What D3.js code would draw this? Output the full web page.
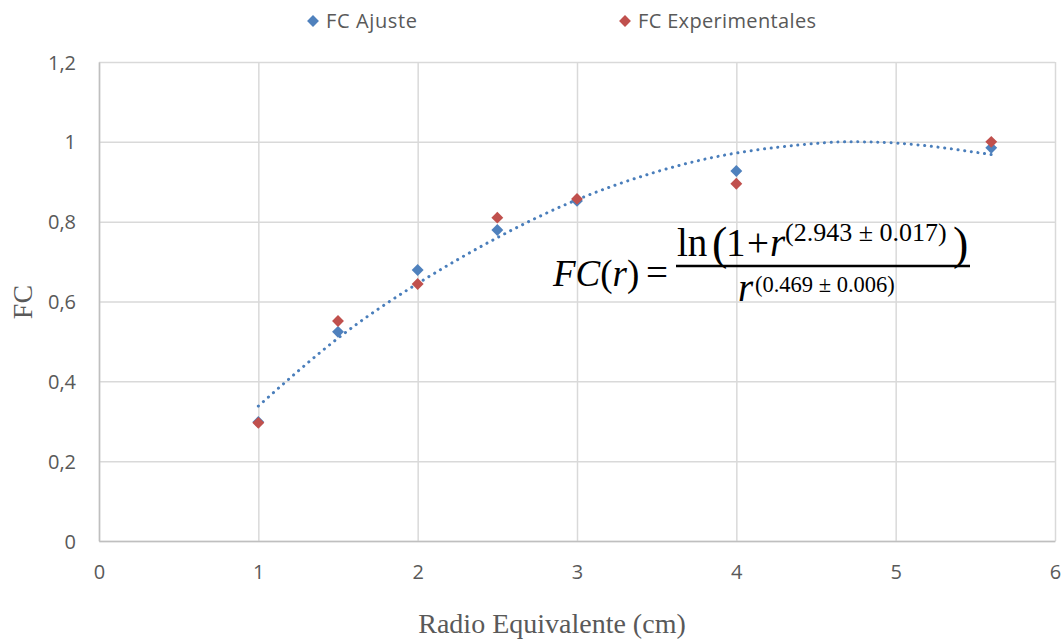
<!DOCTYPE html>
<meta charset="utf-8">
<style>
body { margin: 0; background: #fff; }
.tick text { fill: #595959; font-family: "Open Sans", "Liberation Sans", sans-serif; font-size: 20px; }
.grid line { stroke: #d9d9d9; stroke-width: 1.5; }
.grid path { display: none; }
.eq { font-family: "Liberation Serif", "DejaVu Serif", serif; fill: #000; }
</style>
<svg width="1063" height="639"></svg>
<script src="https://d3js.org/d3.v7.min.js"></script>
<script>

var radio = [1, 1.5, 2, 2.5, 3, 4, 5.6];
var fcAjuste = [0.298, 0.524, 0.679, 0.779, 0.852, 0.927, 0.985];
var fcExperimentales = [0.296, 0.551, 0.644, 0.810, 0.857, 0.895, 1.0];

// dotted trend line
var trendX = [1, 1.5, 2, 2.5, 3, 3.5, 4, 4.5, 4.75, 5, 5.3, 5.6];
var trendY = [0.338, 0.508, 0.645, 0.760, 0.855, 0.925, 0.972, 0.996, 1.0, 0.997, 0.985, 0.968];

var xTicks = [0, 1, 2, 3, 4, 5, 6];
var yTicks = [0, 0.2, 0.4, 0.6, 0.8, 1, 1.2];

var svg = d3.select("svg"),
    margin = {top: 62, right: 8, bottom: 98, left: 99},
    width = +svg.attr("width") - margin.left - margin.right,
    height = +svg.attr("height") - margin.top - margin.bottom;

var x = d3.scaleLinear().domain([0, 6]).range([0, width]),
    y = d3.scaleLinear().domain([0, 1.2]).range([height, 0]);

var g = svg.append("g")
    .attr("transform", "translate(" + margin.left + "," + margin.top + ")");

var fmt = function(d) { return String(d).replace(".", ","); };

// gridlines
g.append("g").attr("class", "grid")
    .call(d3.axisLeft(y).tickValues(yTicks).tickSize(-width).tickFormat(""));
g.append("g").attr("class", "grid")
    .attr("transform", "translate(0," + height + ")")
    .call(d3.axisBottom(x).tickValues(xTicks).tickSize(-height).tickFormat(""));

// axes
var yAxis = g.append("g")
    .call(d3.axisLeft(y).tickValues(yTicks).tickSize(0).tickPadding(23).tickFormat(fmt));
yAxis.select(".domain").attr("stroke", "#bfbfbf").attr("stroke-width", 1.5);
yAxis.selectAll(".tick text").attr("dy", "0.35em");

var xAxis = g.append("g")
    .attr("transform", "translate(0," + height + ")")
    .call(d3.axisBottom(x).tickValues(xTicks).tickSize(0).tickPadding(24).tickFormat(fmt));
xAxis.select(".domain").attr("stroke", "#bfbfbf").attr("stroke-width", 1.5);

// trend line
var line = d3.line()
    .x(function(d) { return x(d[0]); })
    .y(function(d) { return y(d[1]); })
    .curve(d3.curveNatural);

g.append("path")
    .datum(d3.zip(trendX, trendY))
    .attr("d", line)
    .attr("fill", "none")
    .attr("stroke", "#4a7ebb")
    .attr("stroke-width", 3)
    .attr("stroke-linecap", "round")
    .attr("stroke-dasharray", "0.1 6.6");

// markers
var diamond = d3.symbol().type(d3.symbolDiamond2).size(90);

g.selectAll(".aj")
    .data(d3.zip(radio, fcAjuste))
  .enter().append("path")
    .attr("class", "aj")
    .attr("d", diamond)
    .attr("fill", "#4f81bd")
    .attr("transform", function(d) { return "translate(" + x(d[0]) + "," + y(d[1]) + ")"; });

g.selectAll(".ex")
    .data(d3.zip(radio, fcExperimentales))
  .enter().append("path")
    .attr("class", "ex")
    .attr("d", diamond)
    .attr("fill", "#c0504d")
    .attr("transform", function(d) { return "translate(" + x(d[0]) + "," + y(d[1]) + ")"; });

// legend
var legend = [["FC Ajuste", "#4f81bd", 313], ["FC Experimentales", "#c0504d", 625]];
legend.forEach(function(l) {
  svg.append("path").attr("d", diamond).attr("fill", l[1])
    .attr("transform", "translate(" + l[2] + ",21)");
  svg.append("text").attr("x", l[2] + 13).attr("y", 28)
    .attr("fill", "#595959")
    .style("font-family", "'Open Sans', 'Liberation Sans', sans-serif")
    .style("font-size", "20px")
    .attr("textLength", l[0] === "FC Ajuste" ? 91 : 178)
    .text(l[0]);
});

// axis titles
svg.append("text")
    .attr("transform", "translate(32,302) rotate(-90)")
    .attr("text-anchor", "middle")
    .attr("fill", "#595959")
    .style("font-family", "'Liberation Serif', serif")
    .style("font-size", "28px")
    .text("FC");

svg.append("text")
    .attr("x", 552).attr("y", 633)
    .attr("text-anchor", "middle")
    .attr("fill", "#595959")
    .style("font-family", "'Liberation Serif', serif")
    .style("font-size", "28px")
    .text("Radio Equivalente (cm)");

// equation
var eq = svg.append("g").attr("class", "eq");

var lhs = eq.append("text").attr("y", 286).style("font-size", "37px");
lhs.append("tspan").attr("x", 553).style("font-style", "italic").text("FC");
lhs.append("tspan").text("(");
lhs.append("tspan").style("font-style", "italic").text("r");
lhs.append("tspan").text(")");
lhs.append("tspan").attr("x", 646).style("font-size", "39px").text("=");

var num = eq.append("text").attr("y", 256).style("font-size", "39px");
num.append("tspan").attr("x", 677).text("ln");
num.append("tspan").attr("x", 712).style("font-size", "46px").attr("dy", 3).text("(");
num.append("tspan").attr("x", 726).attr("dy", -3).text("1");
num.append("tspan").attr("x", 747).text("+");
num.append("tspan").attr("x", 770).style("font-style", "italic").text("r");
num.append("tspan").attr("x", 785).style("font-size", "26px").attr("dy", -15).text("(2.943 ± 0.017)");
num.append("tspan").attr("x", 953).style("font-size", "46px").attr("dy", 18).text(")");

eq.append("line")
    .attr("x1", 676).attr("x2", 970)
    .attr("y1", 266).attr("y2", 266)
    .attr("stroke", "#000").attr("stroke-width", 2.5);

var den = eq.append("text").attr("y", 301).style("font-size", "39px");
den.append("tspan").attr("x", 738).style("font-style", "italic").text("r");
den.append("tspan").attr("x", 755).style("font-size", "22.5px").attr("dy", -9).text("(0.469 ± 0.006)");

</script>
